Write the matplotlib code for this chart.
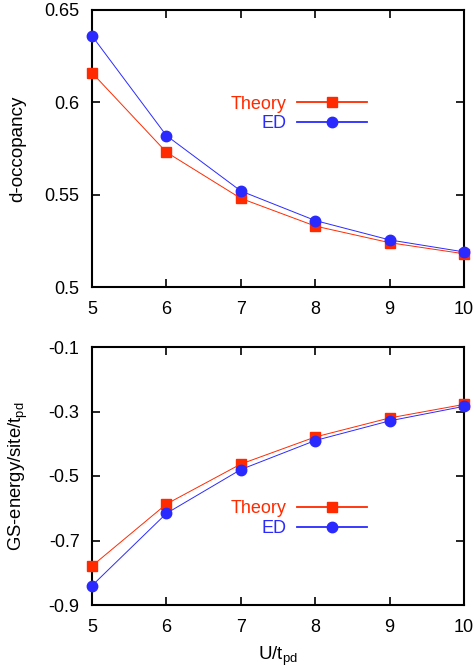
import matplotlib
matplotlib.use("Agg")
import matplotlib.pyplot as plt

plt.rcParams['font.family'] = ['Liberation Sans', 'DejaVu Sans']

u_values = [5, 6, 7, 8, 9, 10]
docc_theory = [0.616, 0.573, 0.548, 0.533, 0.524, 0.518]
docc_ed = [0.636, 0.582, 0.552, 0.536, 0.5255, 0.519]
energy_theory = [-0.779, -0.587, -0.463, -0.379, -0.320, -0.278]
energy_ed = [-0.840, -0.616, -0.480, -0.390, -0.329, -0.284]

red = '#ff2a00'
blue = '#2a2aff'

fig = plt.figure(figsize=(4.74, 6.70), dpi=100)
ax1 = fig.add_axes([92/474, 1 - 287/670, 372/474, 277/670])
ax2 = fig.add_axes([92/474, 1 - 605/670, 372/474, 258/670])


def draw(ax, theory, ed, ylim, yticks, ylabels, legend_y):
    ax.plot(u_values, theory, '-', color=red, lw=0.7, marker='s', ms=7,
            mec=red, mfc=red, label='Theory', clip_on=False, zorder=3)
    ax.plot(u_values, ed, '-', color=blue, lw=0.7, marker='o', ms=7.5,
            mec=blue, mfc=blue, label='ED', clip_on=False, zorder=4)
    ax.set_xlim(5, 10)
    ax.set_ylim(*ylim)
    ax.set_xticks(u_values)
    ax.set_yticks(yticks)
    ax.set_yticklabels(ylabels)
    ax.tick_params(direction='in', length=6, width=1.2, labelsize=13,
                   top=True, right=True)
    ax.tick_params(axis='x', pad=10)
    ax.tick_params(axis='y', pad=9)
    for s in ax.spines.values():
        s.set_linewidth(1.5)
    leg = ax.legend(loc='center right', bbox_to_anchor=(0.74, legend_y),
                    frameon=False, markerfirst=False, handlelength=3.9,
                    handletextpad=0.6, labelspacing=0.15, borderpad=0,
                    borderaxespad=0, fontsize=13, labelcolor='linecolor')
    for line in leg.get_lines():
        line.set_linewidth(1.3)
    return leg


draw(ax1, docc_theory, docc_ed, (0.5, 0.65), [0.5, 0.55, 0.6, 0.65],
     ['0.5', '0.55', '0.6', '0.65'], 0.625)
ax1.set_ylabel('d-occopancy', fontsize=13.5)
ax1.yaxis.set_label_coords(-66/372, 0.5)

draw(ax2, energy_theory, energy_ed, (-0.9, -0.1), [-0.9, -0.7, -0.5, -0.3, -0.1],
     ['-0.9', '-0.7', '-0.5', '-0.3', '-0.1'], 0.335)
ax2.set_ylabel(r'GS-energy/site/t$_{\mathregular{pd}}$', fontsize=13.3)
ax2.yaxis.set_label_coords(-62/372, 0.5)
ax2.set_xlabel(r'U/t$_{\mathregular{pd}}$', fontsize=13.5, labelpad=6)

fig.savefig('out.png', dpi=100)
